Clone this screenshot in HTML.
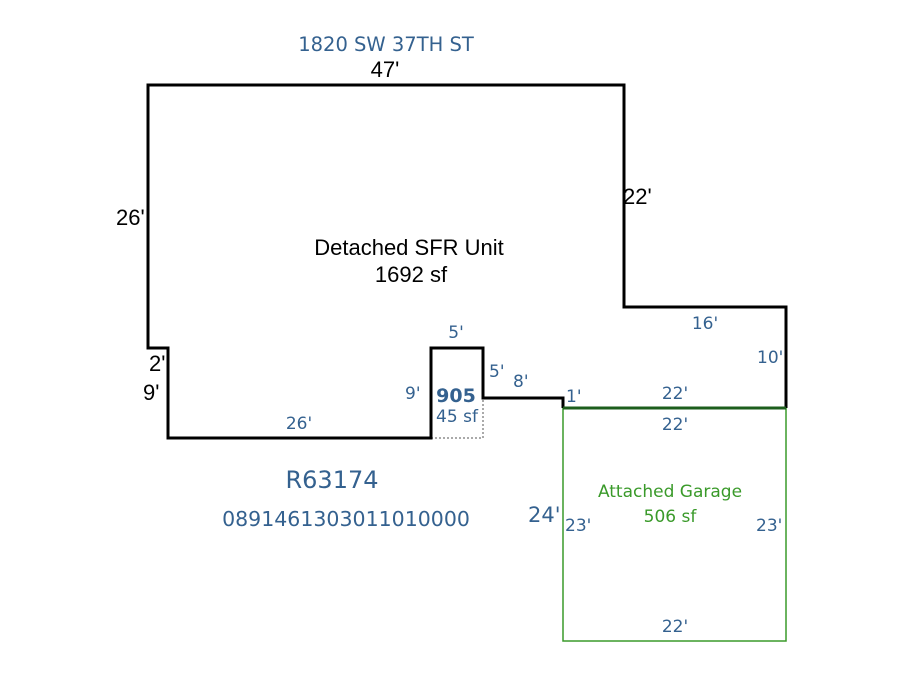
<!DOCTYPE html>
<html><head><meta charset="utf-8"><style>
html,body{margin:0;padding:0;background:#fff;width:900px;height:675px;overflow:hidden}
svg{display:block}
.b{font-family:"DejaVu Sans",sans-serif;fill:#34618f}
.k{font-family:"Liberation Sans",sans-serif;fill:#000}
.g{font-family:"DejaVu Sans",sans-serif;fill:#3a9a2a}
</style></head><body>
<svg width="900" height="675" viewBox="0 0 900 675" xmlns="http://www.w3.org/2000/svg">
<rect x="563" y="408" width="223" height="233" fill="none" stroke="#3a9a2a" stroke-width="1.5"/>
<polyline points="431,438 483,438 483,398" fill="none" stroke="#555" stroke-width="1" stroke-dasharray="2,2"/>
<polyline points="563,408 563,398 483,398 483,348 431,348 431,438 168,438 168,348 148,348 148,85 624,85 624,307 786,307 786,408" fill="none" stroke="#000" stroke-width="3"/>
<line x1="563" y1="408" x2="786" y2="408" stroke="#1d5e1d" stroke-width="3"/>
<text class="b" x="386" y="51" font-size="19.5" text-anchor="middle">1820 SW 37TH ST</text>
<text class="k" x="385" y="77" font-size="22" text-anchor="middle">47'</text>
<text class="k" x="116" y="225" font-size="22">26'</text>
<text class="k" x="623" y="204" font-size="22">22'</text>
<text class="k" x="409" y="255" font-size="22" text-anchor="middle">Detached SFR Unit</text>
<text class="k" x="411" y="282" font-size="22" text-anchor="middle">1692 sf</text>
<text class="k" x="149" y="371" font-size="22">2'</text>
<text class="k" x="143" y="400" font-size="22">9'</text>
<text class="b" x="456" y="338" font-size="17" text-anchor="middle">5'</text>
<text class="b" x="705" y="329" font-size="17" text-anchor="middle">16'</text>
<text class="b" x="757" y="363" font-size="17">10'</text>
<text class="b" x="405" y="399" font-size="17">9'</text>
<text class="b" x="489" y="377" font-size="17">5'</text>
<text class="b" x="513" y="387" font-size="17">8'</text>
<text class="b" x="566" y="402" font-size="17">1'</text>
<text class="b" x="675" y="399" font-size="17" text-anchor="middle">22'</text>
<text class="b" x="675" y="430" font-size="17" text-anchor="middle">22'</text>
<text class="b" x="456" y="402" font-size="19" font-weight="bold" text-anchor="middle">905</text>
<text class="b" x="457" y="422" font-size="17" text-anchor="middle">45 sf</text>
<text class="b" x="299" y="429" font-size="17" text-anchor="middle">26'</text>
<text class="b" x="332" y="488" font-size="24" text-anchor="middle">R63174</text>
<text class="b" x="346" y="526" font-size="20.5" text-anchor="middle">0891461303011010000</text>
<text class="b" x="528" y="522" font-size="21">24'</text>
<text class="b" x="565" y="531" font-size="17">23'</text>
<text class="b" x="756" y="531" font-size="17">23'</text>
<text class="g" x="670" y="497" font-size="17" text-anchor="middle">Attached Garage</text>
<text class="g" x="670" y="522" font-size="17" text-anchor="middle">506 sf</text>
<text class="b" x="675" y="632" font-size="17" text-anchor="middle">22'</text>
</svg>
</body></html>
